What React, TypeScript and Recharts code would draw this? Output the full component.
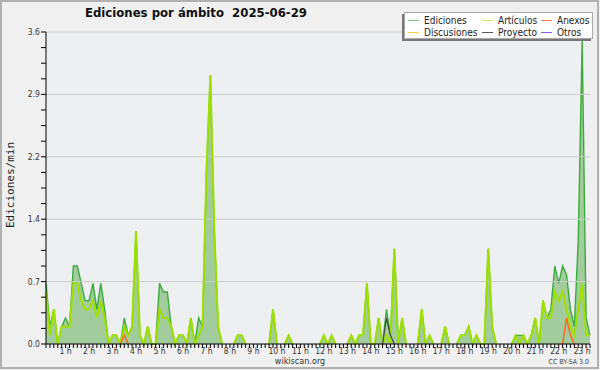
import {
  ComposedChart,
  Area,
  Line,
  XAxis,
  YAxis,
  CartesianGrid,
  ReferenceLine,
} from "recharts";

// one value every 10 minutes, first slot 00:10, last 23:20
const firstSlotMin = 10;
const slotMin = 10;

const ediciones = [
  0.7, 0.2, 0.4, 0, 0.2, 0.3, 0.2, 0.9, 0.9, 0.7,
  0.5, 0.5, 0.7, 0.4, 0.7, 0.4, 0, 0.1, 0.1, 0,
  0.3, 0.1, 0.2, 1.3, 0.1, 0, 0.2, 0, 0, 0.7,
  0.6, 0.6, 0.2, 0, 0.1, 0.1, 0, 0.3, 0, 0.3,
  0.2, 2.0, 3.1, 1.3, 0.2, 0, 0, 0, 0, 0.1,
  0.1, 0, 0, 0, 0, 0, 0, 0, 0.4, 0,
  0, 0, 0.1, 0, 0, 0, 0, 0, 0, 0,
  0, 0.1, 0, 0.1, 0, 0, 0, 0, 0.1, 0,
  0.1, 0.1, 0.7, 0, 0, 0.3, 0, 0.4, 0.1, 1.1,
  0, 0.3, 0, 0, 0, 0, 0.4, 0, 0.1, 0,
  0, 0, 0.2, 0, 0, 0, 0.1, 0.1, 0.2, 0,
  0.1, 0, 0, 1.1, 0.2, 0, 0, 0, 0, 0,
  0.1, 0.1, 0.1, 0, 0.1, 0.3, 0, 0.5, 0.3, 0.4,
  0.9, 0.7, 0.9, 0.8, 0.4, 0.2, 1.2, 3.5, 0.3, 0.1,
];

const articulos = [
  0.6, 0.1, 0.4, 0, 0.2, 0.2, 0.2, 0.7, 0.7, 0.5,
  0.4, 0.4, 0.5, 0.3, 0.5, 0.3, 0, 0.1, 0.1, 0,
  0.2, 0.1, 0.2, 1.3, 0.1, 0, 0.2, 0, 0, 0.4,
  0.3, 0.3, 0.2, 0, 0.1, 0.1, 0, 0.3, 0, 0.1,
  0.2, 2.0, 3.1, 1.3, 0.2, 0, 0, 0, 0, 0.1,
  0.1, 0, 0, 0, 0, 0, 0, 0, 0.4, 0,
  0, 0, 0.1, 0, 0, 0, 0, 0, 0, 0,
  0, 0.1, 0, 0.1, 0, 0, 0, 0, 0.1, 0,
  0.1, 0.1, 0.7, 0, 0, 0.3, 0, 0.1, 0, 1.1,
  0, 0.3, 0, 0, 0, 0, 0.4, 0, 0.1, 0,
  0, 0, 0.2, 0, 0, 0, 0.1, 0.1, 0.2, 0,
  0.1, 0, 0, 1.1, 0.2, 0, 0, 0, 0, 0,
  0.1, 0, 0.1, 0, 0.1, 0.3, 0, 0.5, 0.3, 0.3,
  0.6, 0.5, 0.6, 0.4, 0.2, 0.1, 0.4, 0.7, 0.1, 0.1,
];

// sparse series: [slot index, value]
const anexos: [number, number][] = [
  [19, 0], [20, 0.1], [21, 0],
  [132, 0], [133, 0.3], [134, 0.1], [135, 0],
];
const proyecto: [number, number][] = [
  [86, 0], [87, 0.3], [88, 0.1], [89, 0],
];
const discusiones: [number, number][] = [];
const otros: [number, number][] = [];

const hourTicks = [
  1, 2, 3, 4, 5, 6, 7, 8, 9, 10, 11, 12, 13, 14, 15, 16, 17, 18, 19, 20, 21,
  22, 23,
];
const yMajor = [0, 0.72, 1.44, 2.16, 2.88, 3.6];

const legendItems = [
  { name: "Ediciones", color: "#77cc77" },
  { name: "Artículos", color: "#c4ee55" },
  { name: "Anexos", color: "#ff7744" },
  { name: "Discusiones", color: "#ffcc44" },
  { name: "Proyecto", color: "#555555" },
  { name: "Otros", color: "#9955ee" },
];

const sparse = (pairs: [number, number][]) => new Map(pairs);
const anexosAt = sparse(anexos);
const proyectoAt = sparse(proyecto);
const discusionesAt = sparse(discusiones);
const otrosAt = sparse(otros);

// drop zero runs so that nothing is drawn over the black base axis
const trimZeros = (vals: number[]) =>
  vals.map((v, i) => {
    if (v !== 0) return v;
    const prev = i > 0 ? vals[i - 1] : 0;
    const next = i < vals.length - 1 ? vals[i + 1] : 0;
    return prev === 0 && next === 0 ? null : v;
  });
const edicionesDrawn = trimZeros(ediciones);
const articulosDrawn = trimZeros(articulos);

const data = ediciones.map((v, i) => ({
  t: (firstSlotMin + i * slotMin) / 60,
  ediciones: edicionesDrawn[i],
  articulos: articulosDrawn[i],
  anexos: anexosAt.get(i) ?? null,
  proyecto: proyectoAt.get(i) ?? null,
  discusiones: discusionesAt.get(i) ?? null,
  otros: otrosAt.get(i) ?? null,
}));

// minor ticks: every slot on x, quarter of a grid step on y
const xTicks = data.map((d) => d.t);
const yTicks: number[] = [];
yMajor.forEach((v, k) => {
  yTicks.push(v);
  if (k < yMajor.length - 1) {
    const step = (yMajor[k + 1] - v) / 4;
    yTicks.push(v + step, v + 2 * step, v + 3 * step);
  }
});

const FONT = "'DejaVu Sans Condensed', 'DejaVu Sans', sans-serif";

function HourTick(props: any) {
  const { x, y, payload } = props;
  const h = Math.round(payload.value);
  if (Math.abs(payload.value - h) > 1e-6 || !hourTicks.includes(h)) return <g />;
  return (
    <text x={x} y={y} dy="0.75em" textAnchor="middle" fontSize={8.5} fill="#333" fontFamily={FONT}>
      {h} h
    </text>
  );
}

function ValueTick(props: any) {
  const { x, y, payload } = props;
  const major = yMajor.some((m) => Math.abs(m - payload.value) < 1e-6);
  if (!major) return <g />;
  return (
    <text x={x} y={y} dy="0.35em" textAnchor="end" fontSize={8.5} fill="#333" fontFamily={FONT}>
      {payload.value.toFixed(1)}
    </text>
  );
}

export default function App() {
  return (
    <div style={{ position: "relative", width: 600, height: 370, background: "#f0f0f0", fontFamily: FONT }}>
      <style>{"body{margin:0}"}</style>
      <div
        style={{
          position: "absolute", left: 0, top: 0, width: 599, height: 369,
          boxSizing: "border-box", border: "2px solid #b0b0b0",
        }}
      />
      <ComposedChart
        width={600}
        height={370}
        data={data}
        margin={{ top: 32, right: 10, bottom: 0, left: 0 }}
      >
        <CartesianGrid horizontal={false} vertical={false} fill="#eeeff1" />
        {yMajor.slice(1).map((v) => (
          <ReferenceLine key={v} y={v} stroke="#cccccc" strokeWidth={1} />
        ))}
        <XAxis
          type="number"
          dataKey="t"
          domain={["dataMin", "dataMax"]}
          ticks={xTicks}
          interval={0}
          tick={<HourTick />}
          tickSize={4}
          tickMargin={0}
          height={26}
          stroke="#000"
          tickLine={{ stroke: "#000" }}
        />
        <YAxis
          type="number"
          domain={[0, 3.6]}
          ticks={yTicks}
          interval={0}
          tick={<ValueTick />}
          tickSize={5}
          tickMargin={1}
          width={46}
          stroke="#000"
          tickLine={{ stroke: "#000" }}
        />
        <Area
          type="linear"
          dataKey="ediciones"
          stroke="#3cab3c"
          strokeWidth={1.4}
          fill="#a2cc9d"
          fillOpacity={1}
          isAnimationActive={false}
          dot={false}
          activeDot={false}
        />
        <Line type="linear" dataKey="articulos" stroke="#9fe000" strokeWidth={2} dot={false} activeDot={false} isAnimationActive={false} />
        <Line type="linear" dataKey="discusiones" stroke="#ffcc44" strokeWidth={1.5} dot={false} activeDot={false} isAnimationActive={false} />
        <Line type="linear" dataKey="anexos" stroke="#ff6622" strokeWidth={1.5} dot={false} activeDot={false} isAnimationActive={false} />
        <Line type="linear" dataKey="proyecto" stroke="#444444" strokeWidth={1.2} dot={false} activeDot={false} isAnimationActive={false} />
        <Line type="linear" dataKey="otros" stroke="#9955ee" strokeWidth={1.5} dot={false} activeDot={false} isAnimationActive={false} />
      </ComposedChart>

      <div style={{ position: "absolute", left: 85, top: 5, fontSize: 13, fontWeight: "bold", color: "#111", whiteSpace: "pre" }}>
        {"Ediciones por ámbito  2025-06-29"}
      </div>
      <div
        style={{
          position: "absolute", left: 10, top: 185, transform: "translate(-50%, -50%) rotate(-90deg)",
          fontSize: 11, fontFamily: "'DejaVu Sans Mono', monospace", color: "#222", whiteSpace: "nowrap",
        }}
      >
        Ediciones/min
      </div>
      <div style={{ position: "absolute", left: 0, width: 600, top: 356, textAlign: "center", fontSize: 9, color: "#333" }}>
        wikiscan.org
      </div>
      <div style={{ position: "absolute", right: 11, top: 358, fontSize: 7, color: "#444" }}>CC BY-SA 3.0</div>

      <div
        style={{
          position: "absolute", left: 404, top: 12, width: 189, height: 27, boxSizing: "border-box",
          background: "#fff", border: "1px solid #aaa", boxShadow: "-2px 2px 0 #777",
          display: "grid", gridTemplateColumns: "74px 59px 52px", padding: "2px 0 0 3px",
          fontSize: 10, lineHeight: "11px", color: "#222",
        }}
      >
        {legendItems.map((it) => (
          <div key={it.name} style={{ display: "flex", alignItems: "center", whiteSpace: "nowrap" }}>
            <span style={{ display: "inline-block", width: 11, height: 1, background: it.color, marginRight: 5 }} />
            {it.name}
          </div>
        ))}
      </div>
    </div>
  );
}
